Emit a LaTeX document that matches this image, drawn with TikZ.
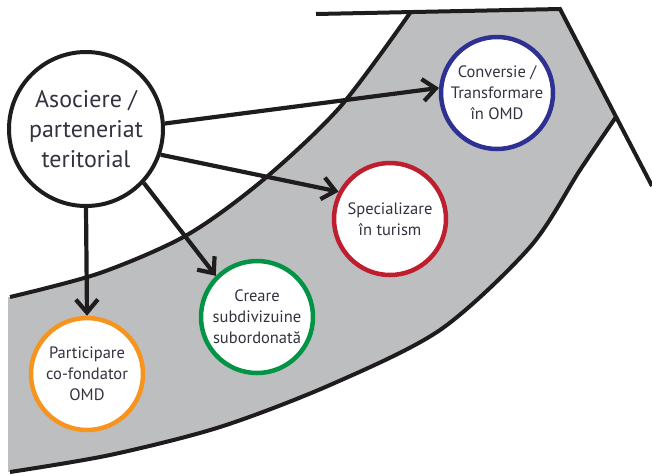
\documentclass[tikz,border=0pt]{standalone}
\usepackage{fontspec}
\setmainfont{PT Sans}
\usetikzlibrary{arrows.meta}
\definecolor{bandgray}{HTML}{BCBEC0}
\definecolor{omdblue}{HTML}{2E3192}
\definecolor{omdred}{HTML}{BE1E2D}
\definecolor{omdgreen}{HTML}{009444}
\definecolor{omdorange}{HTML}{F7941D}
\definecolor{txt}{HTML}{333340}
\definecolor{ink}{HTML}{1E1C1C}
\begin{document}
\begin{tikzpicture}[x=1pt,y=-1pt,
  bandline/.style={line width=4pt, draw=ink, line join=miter},
  hub/.style={circle, draw=ink, line width=4pt, fill=white, minimum size=154pt,
    inner sep=0pt, align=center, text=txt, font=\fontsize{24}{30}\selectfont},
  form/.style={circle, line width=4.5pt, fill=white, minimum size=112pt,
    inner sep=0pt, align=center, text=txt, font=\fontsize{16.5}{21}\selectfont},
  link/.style={line width=4.2pt, draw=ink,
    -{Straight Barb[length=13pt,width=22pt,line width=4.2pt]}}]
\useasboundingbox (0,0) rectangle (652,475);

% the grey ring segment
\fill[bandgray] (8,297)
  -- plot[smooth] coordinates {(10,297) (100,273) (187,235) (263,180) (340,107) (410,13)}
  -- (560,9) -- (616,117)
  -- plot[smooth] coordinates {(616,117) (580,170) (530,247) (440,330) (330,385) (220,427) (110,455) (10,472)}
  -- (8,472) -- cycle;

% its outlines
\draw[bandline] plot[smooth] coordinates {(10,297) (100,273) (187,235) (263,180) (340,107) (410,13)};
\draw[bandline] (316,14) -- (560,9) -- (652,186);
\draw[bandline] plot[smooth] coordinates {(10,472) (110,455) (220,427) (330,385) (440,330) (530,247) (580,170) (616,117)};

% forms of association
\node[hub] (hub) at (86,129) {Asociere /\\parteneriat\\teritorial};
\node[form, draw=omdblue] (conv) at (497,93) {Conversie /\\Transformare\\în OMD};
\node[form, draw=omdred] (spec) at (390,219) {Specializare\\în turism};
\node[form, draw=omdgreen] (sub) at (257,317) {Creare\\subdivizuine\\subordonată};
\node[form, draw=omdorange] (part) at (87,374) {Participare\\co-fondator\\OMD};

% connectors
\draw[link] (hub.4) -- (conv.175);
\draw[link] (hub.-19) -- (spec.152);
\draw[link] (hub.-43) -- (sub.135);
\draw[link] (hub.-90) -- (part.90);
\end{tikzpicture}
\end{document}
